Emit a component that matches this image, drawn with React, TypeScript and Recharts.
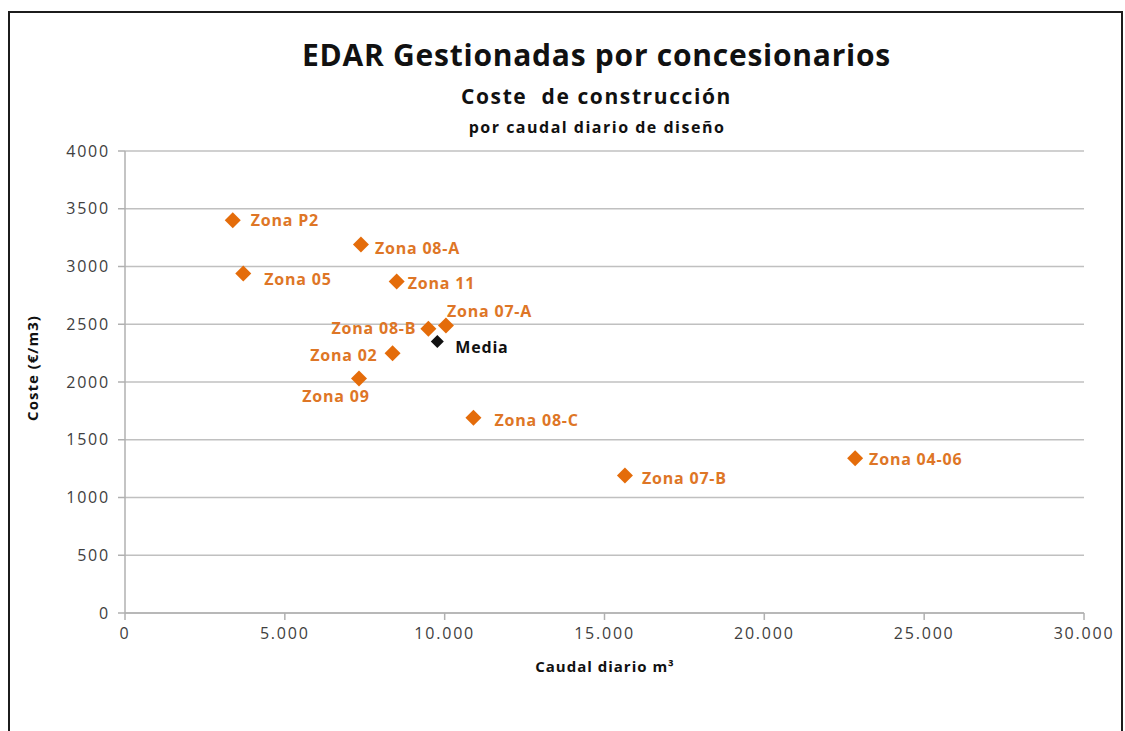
import React from "react";
import { ScatterChart, Scatter, XAxis, YAxis, CartesianGrid } from "recharts";

const zonas = ["Zona P2", "Zona 08-A", "Zona 05", "Zona 11", "Zona 08-B", "Zona 07-A", "Zona 02", "Zona 09", "Zona 08-C", "Zona 07-B", "Zona 04-06"];
const caudal = [3370, 7380, 3700, 8500, 9490, 10040, 8370, 7320, 10900, 15640, 22840];
const coste = [3400, 3190, 2940, 2870, 2460, 2490, 2250, 2030, 1690, 1190, 1340];

const mediaName = "Media";
const mediaCaudal = 9770;
const mediaCoste = 2350;

const xTicks = [0, 5000, 10000, 15000, 20000, 25000, 30000];
const yTicks = [0, 500, 1000, 1500, 2000, 2500, 3000, 3500, 4000];

const titulo = "EDAR Gestionadas por concesionarios";
const subtitulo = "Coste  de construcción";
const subtitulo2 = "por caudal diario de diseño";
const xTitulo = "Caudal diario m³";
const yTitulo = "Coste (€/m3)";

// label placement (style only)
const labelStyle: Record<string, { dx: number; dy: number; anchor: "start" | "end" | "middle" }> = {
  "Zona P2": { dx: 18, dy: 0, anchor: "start" },
  "Zona 08-A": { dx: 14, dy: 3, anchor: "start" },
  "Zona 05": { dx: 21, dy: 6, anchor: "start" },
  "Zona 11": { dx: 11, dy: 1, anchor: "start" },
  "Zona 08-B": { dx: -12, dy: -1, anchor: "end" },
  "Zona 07-A": { dx: 1, dy: -14, anchor: "start" },
  "Zona 02": { dx: -15, dy: 2, anchor: "end" },
  "Zona 09": { dx: -23, dy: 17, anchor: "middle" },
  "Zona 08-C": { dx: 21, dy: 2, anchor: "start" },
  "Zona 07-B": { dx: 17, dy: 2, anchor: "start" },
  "Zona 04-06": { dx: 14, dy: 1, anchor: "start" },
  "Media": { dx: 18, dy: 5, anchor: "start" },
};

const zonaData = zonas.map((n, i) => ({ name: n, x: caudal[i], y: coste[i] }));
const mediaData = [{ name: mediaName, x: mediaCaudal, y: mediaCoste }];

const FONT = "'Open Sans', 'DejaVu Sans', sans-serif";

const makeShape = (fill: string, textFill: string, r: number) => (props: any) => {
  const { cx, cy, payload } = props;
  if (cx == null || cy == null) return null;
  const s = labelStyle[payload.name] || { dx: 14, dy: 0, anchor: "start" };
  return (
    <g>
      <path d={`M${cx},${cy - r} L${cx + r},${cy} L${cx},${cy + r} L${cx - r},${cy} Z`} fill={fill} />
      <text
        x={cx + s.dx}
        y={cy + s.dy}
        textAnchor={s.anchor}
        dominantBaseline="central"
        fontFamily={FONT}
        fontWeight={700}
        fontSize={16}
        letterSpacing={0.8}
        fill={textFill}
      >
        {payload.name}
      </text>
    </g>
  );
};

const fmt = (v: number) => v.toLocaleString("de-DE");

const tickStyle = { fill: "#404040", fontFamily: FONT, fontSize: 16, letterSpacing: 1.8 };

export default function App() {
  return (
    <div style={{ position: "absolute", left: 0, top: 0, width: 1125, height: 731, overflow: "hidden", background: "#fff" }}>
      <div
        style={{
          position: "absolute",
          left: 8,
          top: 11,
          width: 1115,
          height: 760,
          border: "2px solid #1c1c1c",
          boxSizing: "border-box",
        }}
      />
      <div style={{ position: "absolute", left: 0, width: 1193, top: 36, textAlign: "center", fontFamily: FONT, fontWeight: 700, fontSize: 30, letterSpacing: 0.75, color: "#111", lineHeight: "38px" }}>
        {titulo}
      </div>
      <div style={{ position: "absolute", left: 0, width: 1193, top: 82, textAlign: "center", fontFamily: FONT, fontWeight: 700, fontSize: 21, letterSpacing: 1.6, color: "#111", lineHeight: "28px", whiteSpace: "pre" }}>
        {subtitulo}
      </div>
      <div style={{ position: "absolute", left: 0, width: 1194, top: 116, textAlign: "center", fontFamily: FONT, fontWeight: 700, fontSize: 16, letterSpacing: 1.5, color: "#111", lineHeight: "22px" }}>
        {subtitulo2}
      </div>
      <div style={{ position: "absolute", left: 0, top: 0 }}>
        <ScatterChart width={1125} height={731} margin={{ top: 151, right: 41, bottom: 78, left: 0 }}>
          <CartesianGrid horizontal={true} vertical={false} stroke="#c0c0c0" strokeWidth={1.5} />
          <XAxis
            type="number"
            dataKey="x"
            domain={[0, 30000]}
            ticks={xTicks}
            tickFormatter={fmt}
            height={40}
            axisLine={{ stroke: "#b0b0b0", strokeWidth: 1.5 }}
            tickLine={{ stroke: "#b0b0b0", strokeWidth: 1.5 }}
            tickSize={7}
            tick={tickStyle}
            tickMargin={8}
            interval={0}
          />
          <YAxis
            type="number"
            dataKey="y"
            domain={[0, 4000]}
            ticks={yTicks}
            width={125}
            axisLine={{ stroke: "#b0b0b0", strokeWidth: 1.5 }}
            tickLine={{ stroke: "#b0b0b0", strokeWidth: 1.5 }}
            tickSize={7}
            tick={tickStyle}
            tickMargin={8}
            interval={0}
          />
          <Scatter data={zonaData} isAnimationActive={false} shape={makeShape("#E46C0A", "#DE7626", 8)} />
          <Scatter data={mediaData} isAnimationActive={false} shape={makeShape("#111", "#111", 6.5)} />
        </ScatterChart>
      </div>
      <div style={{ position: "absolute", left: 455, width: 300, top: 656, textAlign: "center", fontFamily: FONT, fontWeight: 700, fontSize: 15, letterSpacing: 1, color: "#111" }}>
        {xTitulo}
      </div>
      <div
        style={{
          position: "absolute",
          left: 32,
          top: 368,
          transform: "translate(-50%, -50%) rotate(-90deg)",
          fontFamily: FONT,
          fontWeight: 700,
          fontSize: 15,
          letterSpacing: 1,
          color: "#111",
          whiteSpace: "nowrap",
        }}
      >
        {yTitulo}
      </div>
    </div>
  );
}
